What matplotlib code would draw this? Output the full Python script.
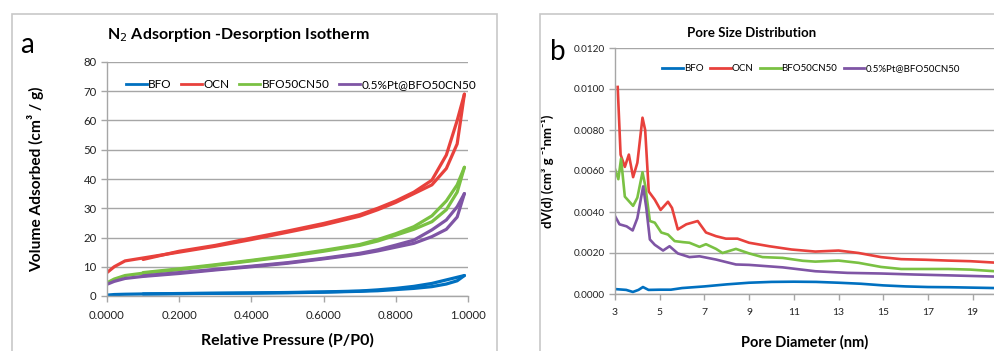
import matplotlib
matplotlib.use("Agg")
import matplotlib.pyplot as plt
from matplotlib.patches import Rectangle
from matplotlib.lines import Line2D

FONT = ["Lato", "DejaVu Sans"]
plt.rcParams['font.family'] = FONT

# ---------------- data: panel a (isotherms) ----------------
p_ads = [0.0, 0.02, 0.05, 0.1, 0.2, 0.3, 0.4, 0.5, 0.6, 0.7, 0.75, 0.8, 0.85, 0.9, 0.94, 0.97, 0.99]
p_des = [0.99, 0.97, 0.94, 0.9, 0.85, 0.8, 0.75, 0.7, 0.6, 0.5, 0.4, 0.3, 0.2, 0.1]

bfo_ads = [0.3, 0.5, 0.6, 0.7, 0.8, 0.9, 1.0, 1.1, 1.3, 1.6, 1.8, 2.2, 2.6, 3.2, 4.1, 5.2, 7.0]
bfo_des = [7.0, 6.4, 5.5, 4.3, 3.3, 2.6, 2.1, 1.7, 1.4, 1.2, 1.05, 0.95, 0.85, 0.7]

ocn_ads = [8.0, 10.0, 12.0, 13.0, 15.0, 17.0, 19.3, 21.8, 24.3, 27.3, 29.5, 32.0, 35.0, 38.0, 43.6, 52.0, 69.0]
ocn_des = [69.0, 60.0, 48.2, 39.6, 35.5, 32.5, 30.0, 27.8, 24.8, 22.2, 19.8, 17.3, 15.3, 12.5]

bfocn_ads = [4.5, 5.8, 7.0, 7.8, 9.0, 10.5, 12.0, 13.5, 15.3, 17.3, 18.8, 20.8, 22.8, 25.4, 29.5, 35.5, 44.0]
bfocn_des = [44.0, 38.0, 32.5, 27.4, 23.7, 21.3, 19.3, 17.6, 15.6, 13.8, 12.2, 10.7, 9.3, 8.0]

pt_ads = [4.0, 5.0, 6.0, 6.7, 7.7, 8.9, 10.0, 11.2, 12.7, 14.3, 15.4, 16.7, 18.0, 20.3, 22.8, 27.0, 35.0]
pt_des = [35.0, 30.5, 26.0, 22.6, 19.1, 17.4, 15.8, 14.6, 12.9, 11.4, 10.2, 9.1, 8.0, 6.9]

# ---------------- data: panel b (pore size distribution) ----------------
d_bfo = [3.0, 3.5, 3.8, 4.05, 4.25, 4.5, 5.0, 5.5, 6.0, 7.0, 8.0, 9.0, 10.0, 11.0, 12.0, 13.0, 14.0, 15.0, 16.0, 17.0, 18.0, 19.0, 20.0]
v_bfo = [0.00024, 0.00020, 0.00010, 0.00020, 0.00034, 0.00020, 0.00021, 0.00021, 0.00029, 0.00037, 0.00047, 0.00055, 0.00059, 0.00060, 0.00059, 0.00055, 0.00050, 0.00042, 0.00037, 0.00034, 0.00033, 0.00031, 0.00029]

d_ocn = [3.12, 3.25, 3.44, 3.62, 3.81, 4.0, 4.23, 4.35, 4.51, 4.78, 5.04, 5.37, 5.55, 5.81, 6.19, 6.70, 7.07, 7.52, 7.96, 8.48, 9.0, 9.9, 10.9, 11.96, 13.0, 13.9, 14.9, 15.8, 16.9, 17.9, 18.9, 20.0]
v_ocn = [0.0101, 0.0068, 0.0062, 0.0068, 0.0057, 0.0064, 0.0086, 0.0080, 0.0050, 0.0046, 0.0041, 0.0045, 0.0042, 0.00315, 0.0034, 0.00356, 0.0030, 0.00282, 0.0027, 0.0027, 0.0025, 0.00233, 0.00217, 0.00207, 0.00212, 0.0020, 0.0018, 0.0017, 0.00167, 0.00163, 0.0016, 0.00153]

d_bfocn = [3.0, 3.15, 3.27, 3.44, 3.81, 4.0, 4.23, 4.35, 4.56, 4.78, 5.07, 5.37, 5.67, 6.04, 6.33, 6.78, 7.07, 7.52, 7.81, 8.41, 9.0, 9.6, 10.5, 11.4, 11.96, 13.0, 13.9, 14.9, 15.8, 16.9, 17.9, 18.9, 20.0]
v_bfocn = [0.0061, 0.0056, 0.0066, 0.00475, 0.0043, 0.0047, 0.00594, 0.0053, 0.00356, 0.00348, 0.0030, 0.0029, 0.00258, 0.00253, 0.0025, 0.0023, 0.00243, 0.0022, 0.0020, 0.0022, 0.00198, 0.0018, 0.00176, 0.00162, 0.00158, 0.00163, 0.00152, 0.00132, 0.00122, 0.00122, 0.00122, 0.00119, 0.00111]

d_pt = [3.0, 3.2, 3.52, 3.79, 4.0, 4.26, 4.4, 4.56, 4.78, 5.15, 5.44, 5.81, 6.33, 6.78, 7.52, 8.41, 9.0, 10.5, 11.96, 13.4, 14.9, 16.4, 17.9, 20.0]
v_pt = [0.0038, 0.0034, 0.0033, 0.0031, 0.0037, 0.00525, 0.0042, 0.00266, 0.0024, 0.00212, 0.00233, 0.00198, 0.0018, 0.00184, 0.00168, 0.00144, 0.00142, 0.0013, 0.00111, 0.00103, 0.0010, 0.00095, 0.00091, 0.00085]

names = ["BFO", "OCN", "BFO50CN50", "0.5%Pt@BFO50CN50"]
colors = ["#0070C0", "#E8413C", "#7AC143", "#7F55A5"]

x_ticks_a = [0.0, 0.2, 0.4, 0.6, 0.8, 1.0]
y_ticks_a = [0, 10, 20, 30, 40, 50, 60, 70, 80]
x_ticks_b = [3, 5, 7, 9, 11, 13, 15, 17, 19]
y_ticks_b = [0.0, 0.002, 0.004, 0.006, 0.008, 0.010, 0.012]

W, H = 995, 351
fig = plt.figure(figsize=(W / 100, H / 100), dpi=100)
fig.patch.set_facecolor("white")

# panel frames
fig.patches.append(Rectangle((12 / W, -0.1), (497 - 12) / W, 1 - 14 / H + 0.1, transform=fig.transFigure,
                             fill=False, edgecolor="#C8C8C8", linewidth=1.2, zorder=0))
fig.patches.append(Rectangle((540 / W, -0.1), 0.6, 1 - 14 / H + 0.1, transform=fig.transFigure,
                             fill=False, edgecolor="#C8C8C8", linewidth=1.2, zorder=0))

GRID = "#A6A6A6"


def style_axes(ax):
    for s in ["top", "right"]:
        ax.spines[s].set_visible(False)
    for s in ["left", "bottom"]:
        ax.spines[s].set_color(GRID)
        ax.spines[s].set_linewidth(1.0)
    ax.yaxis.grid(True, color=GRID, linewidth=1.0)
    ax.set_axisbelow(True)
    ax.tick_params(axis="both", colors=GRID, length=4, width=1.0, labelcolor="#222222")


# ---------------- panel a ----------------
axa = fig.add_axes([107 / W, 1 - 296 / H, (468 - 107) / W, (296 - 62) / H])
style_axes(axa)
series_a = [(bfo_ads, bfo_des), (ocn_ads, ocn_des), (bfocn_ads, bfocn_des), (pt_ads, pt_des)]
for (ads, des), c in zip(series_a, colors):
    axa.plot(p_ads, ads, color=c, lw=2.3, solid_capstyle="round")
    axa.plot(p_des, des, color=c, lw=2.3, solid_capstyle="round")
axa.set_xlim(0, 1.0)
axa.set_ylim(0, 80)
axa.set_xticks(x_ticks_a)
axa.set_xticklabels([f"{v:.4f}" for v in x_ticks_a], fontsize=8.2)
axa.set_yticks(y_ticks_a)
axa.set_yticklabels([str(v) for v in y_ticks_a], fontsize=8.2)
axa.tick_params(axis="x", pad=6)
axa.set_xlabel("Relative Pressure (P/P0)", fontsize=11.5, fontweight="bold", labelpad=9)
axa.set_ylabel("Volume Adsorbed (cm³ / g)", fontsize=11.2, fontweight="bold", labelpad=28)
handles = [Line2D([], [], color=c, lw=2) for c in colors]
axa.legend(handles, names, loc="center", bbox_to_anchor=(0.537, 0.905), ncol=4, frameon=False,
           fontsize=8.5, handlelength=1.8, handletextpad=0.1, columnspacing=0.8, borderaxespad=0)
fig.text(238 / W, 1 - 35 / H, "N$_2$ Adsorption -Desorption Isotherm", ha="center", va="center",
         fontsize=11.5, fontweight="bold")
fig.text(27 / W, 1 - 45 / H, "a", ha="center", va="center", fontsize=20)

# ---------------- panel b ----------------
axb = fig.add_axes([615 / W, 1 - 294 / H, (995 - 615) / W, (294 - 48) / H])
style_axes(axb)
series_b = [(d_bfo, v_bfo), (d_ocn, v_ocn), (d_bfocn, v_bfocn), (d_pt, v_pt)]
for (xd, yd), c in zip(series_b, colors):
    axb.plot(xd, yd, color=c, lw=1.9, solid_joinstyle="round")
axb.set_xlim(3, 20)
axb.set_ylim(0, 0.012)
axb.set_xticks(x_ticks_b)
axb.set_xticklabels([str(v) for v in x_ticks_b], fontsize=7.5)
axb.set_yticks(y_ticks_b)
axb.set_yticklabels([f"{v:.4f}" for v in y_ticks_b], fontsize=7.2)
axb.tick_params(axis="x", pad=6)
axb.set_xlabel("Pore Diameter (nm)", fontsize=10.5, fontweight="bold", labelpad=13)
axb.set_ylabel("dV(d) (cm³ g ⁻¹nm⁻¹)", fontsize=9.5, fontweight="bold", labelpad=14)
axb.legend(handles, names, loc="center", bbox_to_anchor=(0.516, 0.917), ncol=4, frameon=False,
           fontsize=7.0, handlelength=2.1, handletextpad=0.1, columnspacing=0.7, borderaxespad=0)
fig.text(752 / W, 1 - 33 / H, "Pore Size Distribution", ha="center", va="center",
         fontsize=9.5, fontweight="bold")
fig.text(558 / W, 1 - 52 / H, "b", ha="center", va="center", fontsize=20)

fig.savefig("out.png", dpi=100, facecolor="white")
